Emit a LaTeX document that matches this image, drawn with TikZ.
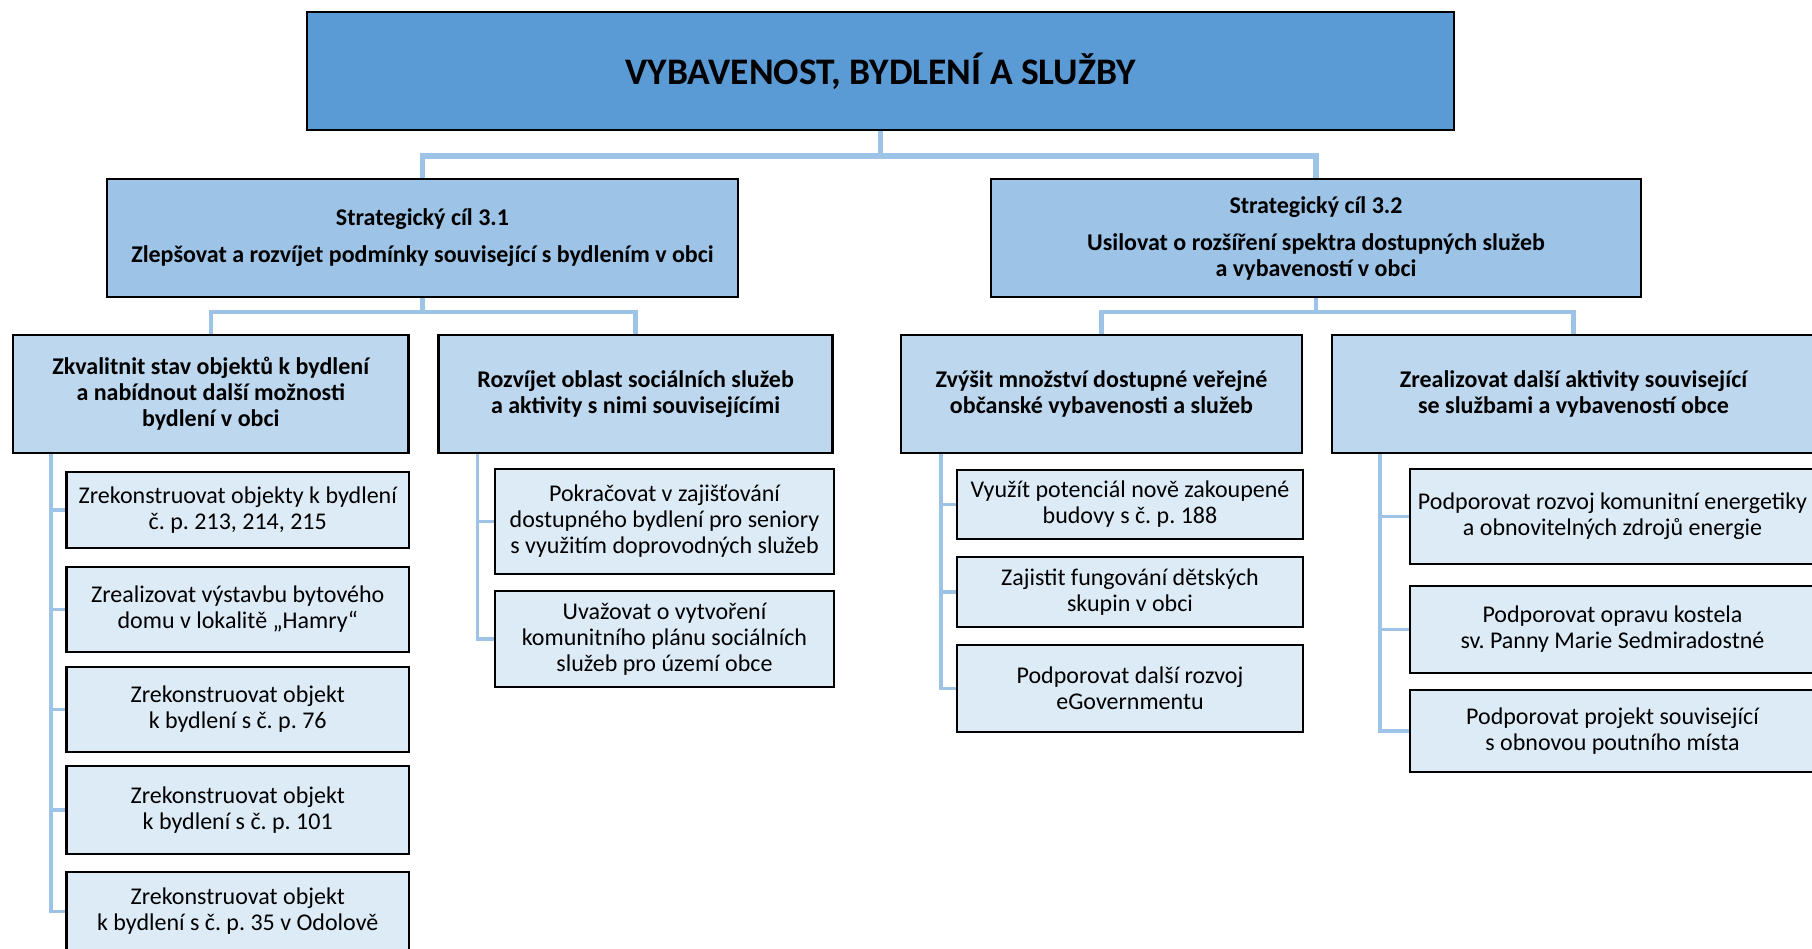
\documentclass[tikz,border=0pt]{standalone}
\usepackage{fontspec}
\setmainfont{Carlito}
\frenchspacing
\usetikzlibrary{calc,backgrounds}
\definecolor{topfill}{HTML}{5B9BD5}
\definecolor{scfill}{HTML}{9DC3E6}
\definecolor{midfill}{HTML}{BDD7EE}
\definecolor{leaffill}{HTML}{DDEBF7}
\definecolor{conncol}{HTML}{9DC3E6}
\tikzset{
  basebox/.style={draw=black, line width=2.5pt, inner sep=0pt, align=center, rectangle},
  titlebox/.style={basebox, fill=topfill, font=\fontsize{37.5}{44}\selectfont\bfseries},
  scbox/.style={basebox, fill=scfill, font=\fontsize{24}{26}\selectfont\bfseries},
  midbox/.style={basebox, fill=midfill, font=\fontsize{24}{26}\selectfont\bfseries},
  leafbox/.style={basebox, fill=leaffill, font=\fontsize{24}{26}\selectfont},
  wh/.style n args={2}{minimum width=#1pt, minimum height=#2pt},
  topconn/.style={draw=conncol, line width=5.5pt},
  midconn/.style={draw=conncol, line width=4.5pt},
  sideconn/.style={draw=conncol, line width=3.5pt}
}
\begin{document}
\begin{tikzpicture}[x=1pt,y=-1pt]
\useasboundingbox (0,0) rectangle (1812,949);
% title
\node[titlebox, wh={1147}{118}] (top) at (880.5,71) {VYBAVENOST, BYDLENÍ A SLUŽBY};
% strategic goals
\node[scbox, wh={631}{118}] (sc1) at (422.5,238) {Strategický cíl 3.1\\[11pt]Zlepšovat a rozvíjet podmínky související s bydlením v obci};
\node[scbox, wh={650}{118}] (sc2) at (1316,238) {Strategický cíl 3.2\\[11pt]Usilovat o rozšíření spektra dostupných služeb\\a vybaveností v obci};
% measures
\node[midbox, wh={395.5}{118}] (L1) at (210.75,394) {Zkvalitnit stav objektů k bydlení\\a nabídnout další možnosti\\bydlení v obci};
\node[midbox, wh={394}{118}] (L2) at (635.6,394) {Rozvíjet oblast sociálních služeb\\a aktivity s nimi souvisejícími};
\node[midbox, wh={401}{118}] (R1) at (1101.5,394) {Zvýšit množství dostupné veřejné\\občanské vybavenosti a služeb};
\node[midbox, wh={483}{118}] (R2) at (1573.5,394) {Zrealizovat další aktivity související\\se službami a vybaveností obce};
% leaves L1
\node[leafbox, wh={342.5}{76}] (c1) at (237.75,510) {Zrekonstruovat objekty k bydlení\\č. p. 213, 214, 215};
\node[leafbox, wh={342.5}{85}] (c2) at (237.75,609.5) {Zrealizovat výstavbu bytového\\domu v lokalitě „Hamry“};
\node[leafbox, wh={342.5}{85}] (c3) at (237.75,709.5) {Zrekonstruovat objekt\\k bydlení s č. p. 76};
\node[leafbox, wh={342.5}{88}] (c4) at (237.75,810) {Zrekonstruovat objekt\\k bydlení s č. p. 101};
\node[leafbox, wh={342.5}{79}] (c5) at (237.75,911.5) {Zrekonstruovat objekt\\k bydlení s č. p. 35 v Odolově};
% leaves L2
\node[leafbox, wh={339}{105}] (d1) at (664.5,521.5) {Pokračovat v zajišťování\\dostupného bydlení pro seniory\\s využitím doprovodných služeb};
\node[leafbox, wh={339}{96}] (d2) at (664.5,639) {Uvažovat o vytvoření\\komunitního plánu sociálních\\služeb pro území obce};
% leaves R1
\node[leafbox, wh={346}{69}] (e1) at (1130,504.5) {Využít potenciál nově zakoupené\\budovy s č. p. 188};
\node[leafbox, wh={346}{70}] (e2) at (1130,592) {Zajistit fungování dětských\\skupin v obci};
\node[leafbox, wh={346}{87}] (e3) at (1130,688.5) {Podporovat další rozvoj\\eGovernmentu};
% leaves R2
\node[leafbox, wh={405}{95}] (f1) at (1612.5,516.5) {Podporovat rozvoj komunitní energetiky\\a obnovitelných zdrojů energie};
\node[leafbox, wh={405}{87}] (f2) at (1612.5,629.5) {Podporovat opravu kostela\\sv. Panny Marie Sedmiradostné};
\node[leafbox, wh={405}{82}] (f3) at (1612.5,731) {Podporovat projekt související\\s obnovou poutního místa};
% trunk coordinates
\coordinate (L1t) at ([xshift=39pt]L1.south west);
\coordinate (L2t) at ([xshift=40pt]L2.south west);
\coordinate (R1t) at ([xshift=41pt]R1.south west);
\coordinate (R2t) at ([xshift=49pt]R2.south west);
\begin{scope}[on background layer]
\fill[white] (0,0) rectangle (1812,949);
\draw[topconn] (top.south) -- ++(0,25) -| (sc1.north);
\draw[topconn] (top.south) -- ++(0,25) -| (sc2.north);
\draw[midconn] (sc1.south) -- ++(0,14) -| (L1.north);
\draw[midconn] (sc1.south) -- ++(0,14) -| (L2.north);
\draw[midconn] (sc2.south) -- ++(0,14) -| (R1.north);
\draw[midconn] (sc2.south) -- ++(0,14) -| (R2.north);
\draw[sideconn] (L1t) |- (c1.west) (L1t) |- (c2.west) (L1t) |- (c3.west) (L1t) |- (c4.west) (L1t) |- (c5.west);
\draw[sideconn] (L2t) |- (d1.west) (L2t) |- (d2.west);
\draw[sideconn] (R1t) |- (e1.west) (R1t) |- (e2.west) (R1t) |- (e3.west);
\draw[sideconn] (R2t) |- (f1.west) (R2t) |- (f2.west) (R2t) |- (f3.west);
\end{scope}
\end{tikzpicture}
\end{document}
